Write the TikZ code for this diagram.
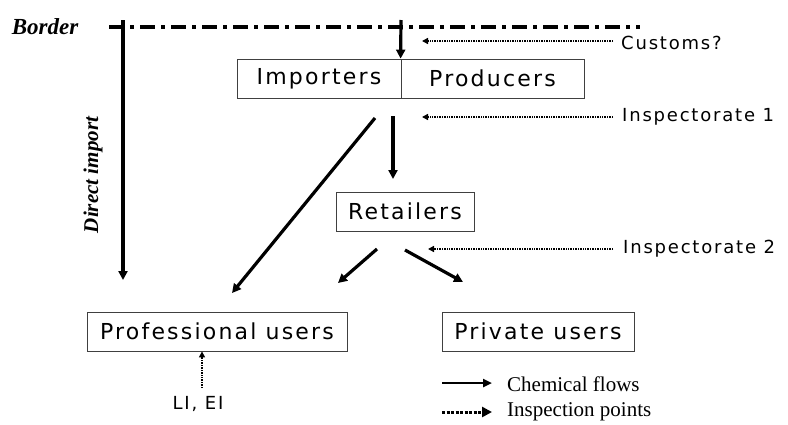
\documentclass[tikz,border=0pt]{standalone}
\usepackage{fontspec}
\setmainfont{Liberation Serif}
\newfontfamily\boxfont[LetterSpace=10]{DejaVu Sans}
\usetikzlibrary{arrows.meta}
\begin{document}
\begin{tikzpicture}[x=1pt,y=-1pt,
  box/.style={draw=black!75, line width=0.8pt, inner sep=0pt, minimum height=39pt,
    font=\boxfont\fontsize{22}{24}\selectfont},
  lbl/.style={anchor=west, inner sep=0pt, font=\boxfont\fontsize{18}{20}\selectfont},
  flow/.style={line width=3.2pt, -{Triangle[length=9pt,width=9pt]}},
  insp/.style={line width=1.4pt, dash pattern=on 1pt off 0.7pt, -{Triangle[length=6pt,width=6pt]}},
  leg/.style={anchor=west, inner sep=0pt, font=\fontsize{21}{23}\selectfont},
]
\useasboundingbox (0,0) rectangle (788,424);

% border
\node[inner sep=0pt, font=\fontsize{23}{25}\selectfont\bfseries\itshape] (border) at (45,27) {Border};
\coordinate (bl) at (109,27);
\coordinate (br) at (640,27);
\draw[line width=3.4pt, dash pattern=on 15pt off 6pt on 4pt off 6pt] (bl) -- (br);

% boxes
\node[box, minimum width=164pt] (imp) at (319,78.5) {Importers};
\node[box, minimum width=183pt] (prod) at (492.5,78.5) {Producers};
\node[box, minimum width=138pt] (ret) at (405,211.5) {Retailers};
\node[box, minimum width=260pt] (prof) at (217,331.5) {Professional users};
\node[box, minimum width=192pt] (priv) at (538,331.5) {Private users};

% direct import
\coordinate (ditop) at (123,20);
\coordinate (diend) at (123,280);
\draw[flow] (ditop) -- (diend);
\node[inner sep=0pt, font=\fontsize{21}{23}\selectfont\bfseries\itshape, rotate=90] (di) at (93,175) {Direct import};

% border to importers/producers
\coordinate (btop) at (401,20);
\draw[flow] (btop) -- (prod.north west);

% flows
\coordinate (f1s) at (375,118);
\coordinate (f1e) at (232,293);
\draw[flow] (f1s) -- (f1e);
\coordinate (f2s) at (393,116);
\coordinate (f2e) at (393,179);
\draw[flow] (f2s) -- (f2e);
\coordinate (f3s) at (377,249);
\coordinate (f3e) at (338,283);
\draw[flow] (f3s) -- (f3e);
\coordinate (f4s) at (405,250);
\coordinate (f4e) at (463,282);
\draw[flow] (f4s) -- (f4e);

% inspection points
\node[lbl] (customs) at (621,43) {Customs?};
\coordinate (c0) at (613,41);
\coordinate (c1) at (422,41);
\draw[insp] (c0) -- (c1);
\node[lbl] (insp1) at (622,117) {Inspectorate 1};
\coordinate (i10) at (613,117);
\coordinate (i1) at (422,117);
\draw[insp] (i10) -- (i1);
\node[lbl] (insp2) at (623,249) {Inspectorate 2};
\coordinate (i20) at (613,249);
\coordinate (i2) at (428,249);
\draw[insp] (i20) -- (i2);

\node[inner sep=0pt, font=\boxfont\fontsize{18}{20}\selectfont] (liei) at (198,404) {LI, EI};
\coordinate (li0) at (202,388);
\draw[insp] (li0) -- (prof.south -| li0);

% legend
\coordinate (l1s) at (442,383);
\coordinate (l1e) at (492,383);
\draw[line width=2.4pt, -{Triangle[length=9pt,width=8pt]}] (l1s) -- (l1e);
\node[leg] (chem) at (507,384) {Chemical flows};
\coordinate (l2s) at (442,412);
\coordinate (l2e) at (492,412);
\draw[line width=3pt, dash pattern=on 3pt off 1.5pt, -{Triangle[length=10pt,width=10pt]}] (l2s) -- (l2e);
\node[leg] (inspp) at (507,412) {Inspection points};
\end{tikzpicture}
\end{document}
